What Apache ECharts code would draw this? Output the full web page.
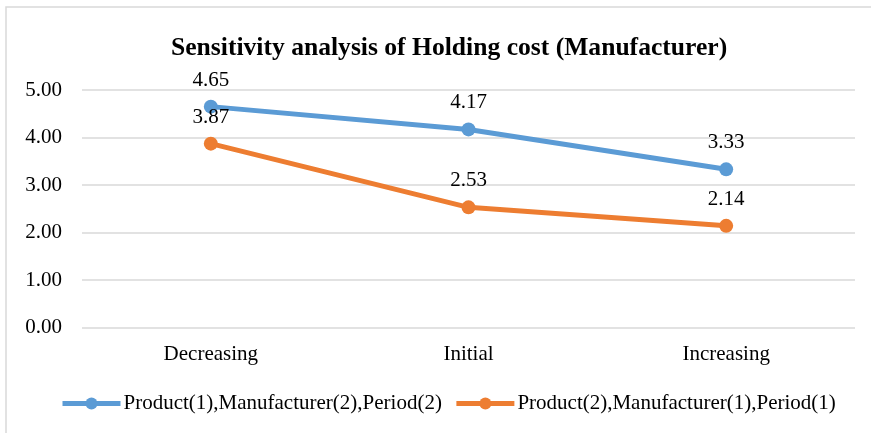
<!DOCTYPE html>
<html>
<head>
<meta charset="utf-8">
<script src="https://cdn.jsdelivr.net/npm/echarts@6/dist/echarts.min.js"></script>
<style>
  html, body { margin: 0; padding: 0; background: #fff; }
  #chart { width: 871px; height: 433px; }
</style>
</head>
<body>
<div id="chart"></div>
<script>
var categories = ['Decreasing', 'Initial', 'Increasing']
var seriesNames = ['Product(1),Manufacturer(2),Period(2)', 'Product(2),Manufacturer(1),Period(1)']
var product1Values = [4.65, 4.17, 3.33]
var product2Values = [3.87, 2.53, 2.14]
var colors = ['#5B9BD5', '#ED7D31']

var font = '"Liberation Serif", "Times New Roman", serif'
var chart = echarts.init(document.getElementById('chart'))

function lineSeries (name, data, color) {
  return {
    name: name,
    type: 'line',
    data: data,
    symbol: 'circle',
    symbolSize: 14,
    lineStyle: { color: color, width: 5 },
    itemStyle: { color: color },
    label: {
      show: true,
      position: 'top',
      distance: 9,
      formatter: function (p) { return p.value.toFixed(2) },
      fontFamily: font,
      fontSize: 21,
      color: '#000'
    }
  }
}

var option = {
  animation: false,
  backgroundColor: '#fff',
  color: colors,
  graphic: [{
    type: 'rect',
    shape: { x: 6, y: 7, width: 880, height: 440 },
    style: { fill: 'none', stroke: '#d9d9d9', lineWidth: 1.5 },
    silent: true
  }],
  title: {
    text: 'Sensitivity analysis of Holding cost (Manufacturer)',
    left: 166,
    top: 30,
    textStyle: { fontFamily: font, fontSize: 25.6, fontWeight: 'bold', color: '#000' }
  },
  legend: {
    top: 388,
    left: 55,
    itemWidth: 58,
    itemHeight: 15,
    itemGap: 12,
    lineStyle: { width: 5 },
    textStyle: { fontFamily: font, fontSize: 21, color: '#000', padding: [0, 0, 0, -2] },
    data: seriesNames
  },
  grid: { left: 82, right: 16, top: 90, bottom: 105.5, containLabel: false },
  xAxis: {
    type: 'category',
    data: categories,
    boundaryGap: true,
    axisLine: { show: false },
    axisTick: { show: false },
    axisLabel: { fontFamily: font, fontSize: 21, color: '#000', margin: 16 }
  },
  yAxis: {
    type: 'value',
    min: 0,
    max: 5,
    interval: 1,
    axisLine: { show: false },
    axisTick: { show: false },
    splitLine: { lineStyle: { color: '#d9d9d9', width: 1.5 } },
    axisLabel: {
      fontFamily: font, fontSize: 21, color: '#000', margin: 20,
      formatter: function (v) { return v.toFixed(2) }
    }
  },
  series: [
    lineSeries(seriesNames[0], product1Values, colors[0]),
    lineSeries(seriesNames[1], product2Values, colors[1])
  ]
}

chart.setOption(option)
</script>
</body>
</html>
